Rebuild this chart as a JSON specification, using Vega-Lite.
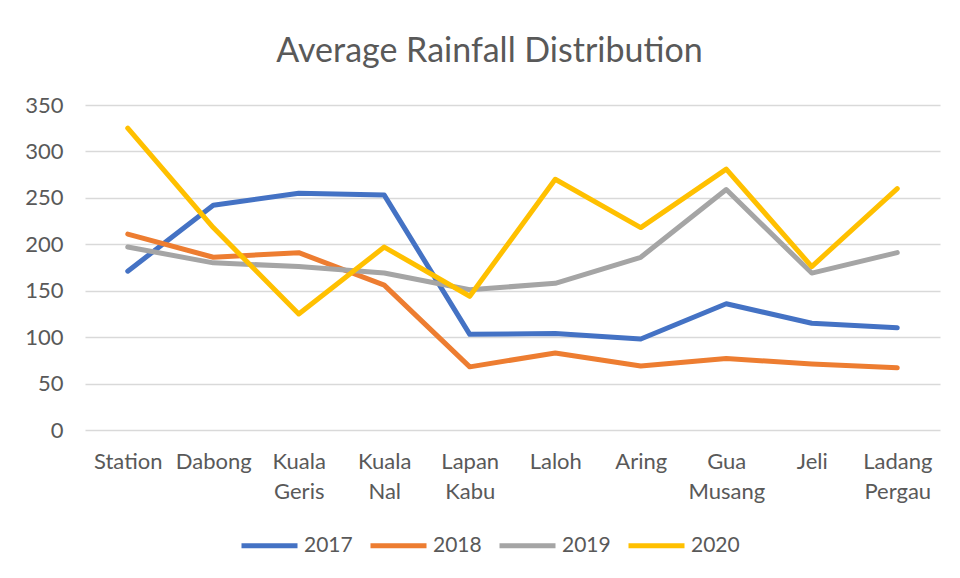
{
  "$schema": "https://vega.github.io/schema/vega-lite/v6.json",
  "autosize": "none",
  "width": 855,
  "height": 325,
  "padding": {"left": 85, "top": 105, "right": 20, "bottom": 148},
  "background": "white",
  "title": {
    "text": "Average Rainfall Distribution",
    "font": "Lato",
    "fontSize": 34,
    "fontWeight": "normal",
    "color": "#595959",
    "anchor": "middle",
    "dx": -23,
    "offset": 25
  },
  "data": {
    "values": [
      {"station": "Station", "year": "2017", "value": 171},
      {"station": "Dabong", "year": "2017", "value": 242},
      {"station": "Kuala Geris", "year": "2017", "value": 255},
      {"station": "Kuala Nal", "year": "2017", "value": 253},
      {"station": "Lapan Kabu", "year": "2017", "value": 103},
      {"station": "Laloh", "year": "2017", "value": 104},
      {"station": "Aring", "year": "2017", "value": 98},
      {"station": "Gua Musang", "year": "2017", "value": 136},
      {"station": "Jeli", "year": "2017", "value": 115},
      {"station": "Ladang Pergau", "year": "2017", "value": 110},
      {"station": "Station", "year": "2018", "value": 211},
      {"station": "Dabong", "year": "2018", "value": 186},
      {"station": "Kuala Geris", "year": "2018", "value": 191},
      {"station": "Kuala Nal", "year": "2018", "value": 156},
      {"station": "Lapan Kabu", "year": "2018", "value": 68},
      {"station": "Laloh", "year": "2018", "value": 83},
      {"station": "Aring", "year": "2018", "value": 69},
      {"station": "Gua Musang", "year": "2018", "value": 77},
      {"station": "Jeli", "year": "2018", "value": 71},
      {"station": "Ladang Pergau", "year": "2018", "value": 67},
      {"station": "Station", "year": "2019", "value": 197},
      {"station": "Dabong", "year": "2019", "value": 180},
      {"station": "Kuala Geris", "year": "2019", "value": 176},
      {"station": "Kuala Nal", "year": "2019", "value": 169},
      {"station": "Lapan Kabu", "year": "2019", "value": 151},
      {"station": "Laloh", "year": "2019", "value": 158},
      {"station": "Aring", "year": "2019", "value": 186},
      {"station": "Gua Musang", "year": "2019", "value": 259},
      {"station": "Jeli", "year": "2019", "value": 169},
      {"station": "Ladang Pergau", "year": "2019", "value": 191},
      {"station": "Station", "year": "2020", "value": 325},
      {"station": "Dabong", "year": "2020", "value": 218},
      {"station": "Kuala Geris", "year": "2020", "value": 125},
      {"station": "Kuala Nal", "year": "2020", "value": 197},
      {"station": "Lapan Kabu", "year": "2020", "value": 144},
      {"station": "Laloh", "year": "2020", "value": 270},
      {"station": "Aring", "year": "2020", "value": 218},
      {"station": "Gua Musang", "year": "2020", "value": 281},
      {"station": "Jeli", "year": "2020", "value": 176},
      {"station": "Ladang Pergau", "year": "2020", "value": 260}
    ]
  },
  "mark": {"type": "line", "strokeWidth": 5, "strokeCap": "round", "strokeJoin": "round"},
  "encoding": {
    "x": {
      "field": "station",
      "type": "nominal",
      "sort": null,
      "scale": {"paddingInner": 0, "paddingOuter": 0.5},
      "axis": {
        "title": null,
        "labelAngle": 0,
        "domain": false,
        "ticks": false,
        "grid": false,
        "labelExpr": "split(datum.label, ' ')",
        "labelFont": "Lato",
        "labelFontSize": 22,
        "labelColor": "#595959",
        "labelPadding": 31,
        "labelLineHeight": 30,
        "labelBaseline": "middle"
      }
    },
    "y": {
      "field": "value",
      "type": "quantitative",
      "scale": {"domain": [0, 350], "nice": false},
      "axis": {
        "title": null,
        "values": [0, 50, 100, 150, 200, 250, 300, 350],
        "domain": false,
        "ticks": false,
        "gridColor": "#d9d9d9",
        "gridWidth": 1.3,
        "labelFont": "Lato",
        "labelFontSize": 22,
        "labelColor": "#595959",
        "labelPadding": 22
      }
    },
    "color": {
      "field": "year",
      "type": "nominal",
      "scale": {"domain": ["2017", "2018", "2019", "2020"], "range": ["#4472C4", "#ED7D31", "#A5A5A5", "#FFC000"]},
      "legend": {
        "title": null,
        "orient": "none",
        "direction": "horizontal",
        "legendX": 154,
        "legendY": 410,
        "symbolType": "stroke",
        "symbolSize": 3136,
        "symbolStrokeWidth": 5,
        "labelFont": "Lato",
        "labelFontSize": 21,
        "labelColor": "#595959",
        "labelOffset": 4,
        "columnPadding": 7
      }
    }
  },
  "config": {"view": {"stroke": null}}
}
